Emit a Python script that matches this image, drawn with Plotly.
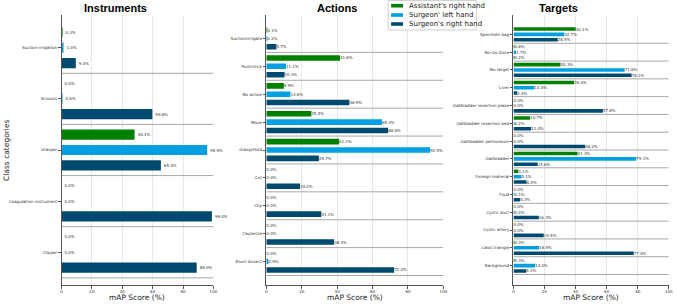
import plotly.graph_objects as go

series_names = ["Assistant's right hand", "Surgeon' left hand", "Surgeon's right hand"]
series_colors = ["#008000", "#00A0E3", "#004A70"]

instr_cats = ["Suction-irrigation", "Scissors", "Grasper", "Coagulation instrument", "Clipper"]
instr_asst_right = [0.3, 0.0, 48.1, 0.0, 0.0]
instr_surg_left = [1.0, 0.6, 95.9, 0.0, 0.0]
instr_surg_right = [9.4, 59.8, 65.4, 99.0, 89.0]

act_cats = ["Suction/irrigate", "Push/stick", "No action", "Move", "Grasp/Hold",
            "Cut", "Clip", "Cauterize", "Blunt dissect"]
act_asst_right = [0.1, 41.6, 9.9, 25.4, 41.1, 0.0, 0.0, 0.0, 0.0]
act_surg_left = [0.2, 11.1, 13.6, 65.3, 92.5, 0.0, 0.0, 0.0, 0.9]
act_surg_right = [5.7, 10.3, 46.9, 68.8, 29.7, 19.0, 31.1, 38.3, 72.2]

tgt_cats = ["Specimen bag", "No-Go Zone", "No target", "Liver", "Gallbladder resection plane",
            "Gallbladder resection bed", "Gallbladder peritoneum", "Gallbladder",
            "Foreign material", "Fluid", "Cystic duct", "Cystic artery", "Calot triangle",
            "Background"]
tgt_asst_right = [40.1, 0.6, 30.3, 39.0, 0.0, 10.7, 0.0, 41.3, 3.1, 0.0, 0.0, 0.0, 0.3, 0.3]
tgt_surg_left = [32.7, 1.7, 71.6, 13.4, 0.0, 0.2, 0.0, 79.1, 5.1, 0.1, 0.2, 0.0, 16.5, 14.0]
tgt_surg_right = [28.5, 0.2, 76.1, 2.4, 57.6, 11.4, 46.2, 15.6, 8.4, 4.3, 16.3, 19.5, 77.4, 8.1]

panel_titles = ["Instruments", "Actions", "Targets"]
x_ticks = [0, 20, 40, 60, 80, 100]
x_title = "mAP Score (%)"
y_title = "Class categories"

W, H = 677, 304
panels = [
    (instr_cats, [instr_asst_right, instr_surg_left, instr_surg_right], (61, 214)),
    (act_cats, [act_asst_right, act_surg_left, act_surg_right], (267.3, 445.7)),
    (tgt_cats, [tgt_asst_right, tgt_surg_left, tgt_surg_right], (516.3, 672.7)),
]
title_x_px = [115, 338, 562]
plot_top, plot_bottom = 15, 285

def px_x(v):
    return v / W

def px_y(v):
    return 1 - v / H

fig = go.Figure()
FONT = "DejaVu Sans"
shapes = []
annotations = []
layout_axes = {}

for p, (cats, series, (x0, x1)) in enumerate(panels):
    suffix = "" if p == 0 else str(p + 1)
    xa, ya = "x" + suffix, "y" + suffix
    for s, vals in enumerate(series):
        fig.add_trace(go.Bar(
            x=vals, y=cats, orientation="h", xaxis=xa, yaxis=ya,
            name=series_names[s], marker=dict(color=series_colors[s], line=dict(width=0)),
            showlegend=False,
            texttemplate="%{x:.1f}%", textposition="outside", constraintext="none",
            cliponaxis=False,
            textfont=dict(size=4, color="#333333", family=FONT),
        ))
    n = len(cats)
    m = 0.05 * (n - 1 + 0.8)
    lo, hi = -0.4 - m, n - 1 + 0.4 + m
    layout_axes["xaxis" + suffix] = dict(
        domain=[px_x(x0), px_x(x1)], anchor=ya, range=[0, 100],
        tickvals=x_ticks, showgrid=True, gridcolor="#e8e8e8", gridwidth=1,
        zeroline=False, showline=True, linecolor="#555555", linewidth=1,
        ticks="outside", ticklen=2.5, tickcolor="#555555",
        tickfont=dict(size=4, color="#333333", family=FONT),
    )
    layout_axes["yaxis" + suffix] = dict(
        domain=[px_y(plot_bottom), px_y(plot_top)], anchor=xa,
        type="category", categoryorder="array", categoryarray=cats,
        range=[hi, lo], showgrid=False, zeroline=False,
        showline=True, linecolor="#555555", linewidth=1,
        ticks="outside", ticklen=2.5, tickcolor="#555555",
        tickfont=dict(size=4.1, color="#333333", family=FONT),
    )
    for i in range(n):
        shapes.append(dict(type="line", xref=xa, yref=ya, x0=0, x1=100, y0=i + 0.5, y1=i + 0.5,
                           line=dict(color="#a8a8a8", width=1)))
    annotations.append(dict(text="<b>" + panel_titles[p] + "</b>", xref="paper", yref="paper",
                            x=px_x(title_x_px[p]), y=px_y(7.5), xanchor="center", yanchor="middle",
                            showarrow=False, font=dict(size=11, color="#000000", family="Liberation Sans")))
    annotations.append(dict(text=x_title, xref=xa + " domain", yref="paper",
                            x=0.5, y=px_y(297), xanchor="center", yanchor="middle",
                            showarrow=False, font=dict(size=7.5, color="#222222", family=FONT)))

annotations.append(dict(text=y_title, xref="paper", yref="paper", textangle=-90,
                        x=px_x(5), y=px_y(150), xanchor="center", yanchor="middle",
                        showarrow=False, font=dict(size=7.5, color="#222222", family=FONT)))

# legend box (matplotlib-style compact legend)
leg_x0, leg_x1, leg_y0, leg_y1 = 390, 479, 0.5, 30
shapes.append(dict(type="rect", xref="paper", yref="paper", layer="above",
                   x0=px_x(leg_x0), x1=px_x(leg_x1), y0=px_y(leg_y1), y1=px_y(leg_y0),
                   fillcolor="rgba(255,255,255,0.85)", line=dict(color="#d0d0d0", width=1)))
leg_rows = [5.7, 15, 24]
for s, name in enumerate(series_names):
    yc = leg_rows[s]
    shapes.append(dict(type="rect", xref="paper", yref="paper", layer="above",
                       x0=px_x(393), x1=px_x(405), y0=px_y(yc + 1.8), y1=px_y(yc - 1.8),
                       fillcolor=series_colors[s], line=dict(width=0)))
    annotations.append(dict(text=name, xref="paper", yref="paper", x=px_x(409), y=px_y(yc),
                            xanchor="left", yanchor="middle", showarrow=False,
                            font=dict(size=7, color="#222222", family=FONT)))

fig.update_layout(
    width=W, height=H, margin=dict(l=0, r=0, t=0, b=0),
    paper_bgcolor="white", plot_bgcolor="white",
    barmode="group", bargap=0.1, bargroupgap=1 / 3,
    shapes=shapes, annotations=annotations, showlegend=False,
    **layout_axes,
)

fig.write_html("out.html", config={"displayModeBar": False},
               post_script="document.body.style.margin='0';")
